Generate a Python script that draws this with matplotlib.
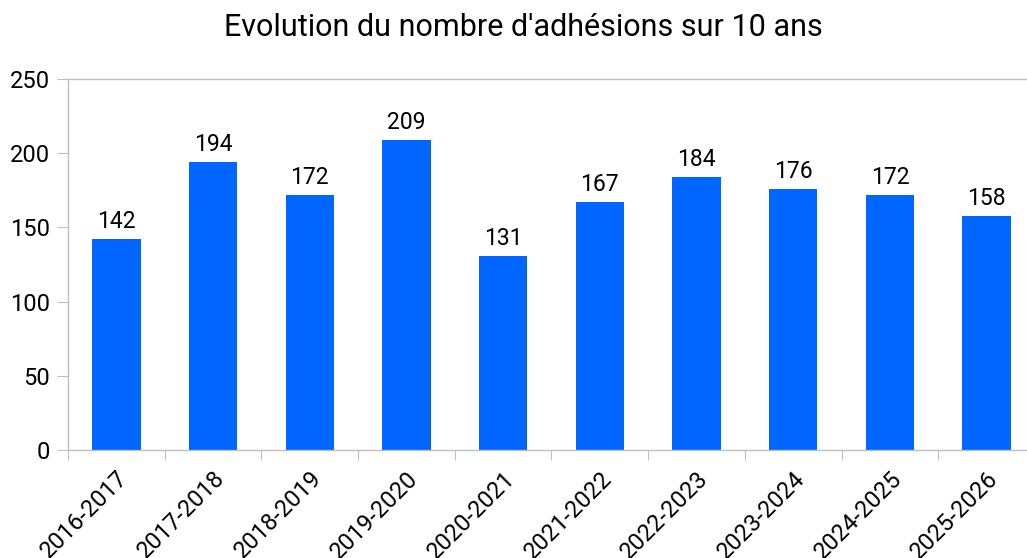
import numpy as np
import matplotlib.pyplot as plt

# Data
seasons = ["2016-2017", "2017-2018", "2018-2019", "2019-2020", "2020-2021",
           "2021-2022", "2022-2023", "2023-2024", "2024-2025", "2025-2026"]
adhesions = [142, 194, 172, 209, 131, 167, 184, 176, 172, 158]
y_ticks = [0, 50, 100, 150, 200, 250]

plt.rcParams['font.family'] = ['Roboto', 'DejaVu Sans']

fig = plt.figure(figsize=(10.27, 5.58), dpi=100)
ax = fig.add_axes([0.0662, 0.1935, 0.9416, 0.665])

x = np.arange(len(seasons))
bars = ax.bar(x, adhesions, width=0.5, color='#0066ff', zorder=2)

for xi, v in zip(x, adhesions):
    ax.text(xi, v + 4, str(v), ha='center', va='bottom', fontsize=16.5, color='black')

ax.set_xlim(-0.5, len(seasons) - 0.5)
ax.set_ylim(0, 250)
ax.set_yticks(y_ticks)
ax.tick_params(axis='y', length=8, color='#c0c0c0', labelsize=17, pad=5)

# ticks between categories, labels at centres
ax.set_xticks(np.arange(len(seasons) + 1) - 0.5)
ax.set_xticklabels([])
ax.set_xticks(x, minor=True)
ax.set_xticklabels(seasons, minor=True, rotation=45, ha='right',
                   rotation_mode='anchor', fontsize=17)
ax.tick_params(axis='x', which='major', length=7, color='#c0c0c0')
ax.tick_params(axis='x', which='minor', length=0, pad=12)

for side in ['left', 'bottom', 'top']:
    ax.spines[side].set_color('#c0c0c0')
    ax.spines[side].set_linewidth(1)
ax.spines['right'].set_visible(False)

fig.text(0.51, 0.95, "Evolution du nombre d'adhésions sur 10 ans",
         ha='center', va='center', fontsize=22)

fig.savefig("out.png", dpi=100)
